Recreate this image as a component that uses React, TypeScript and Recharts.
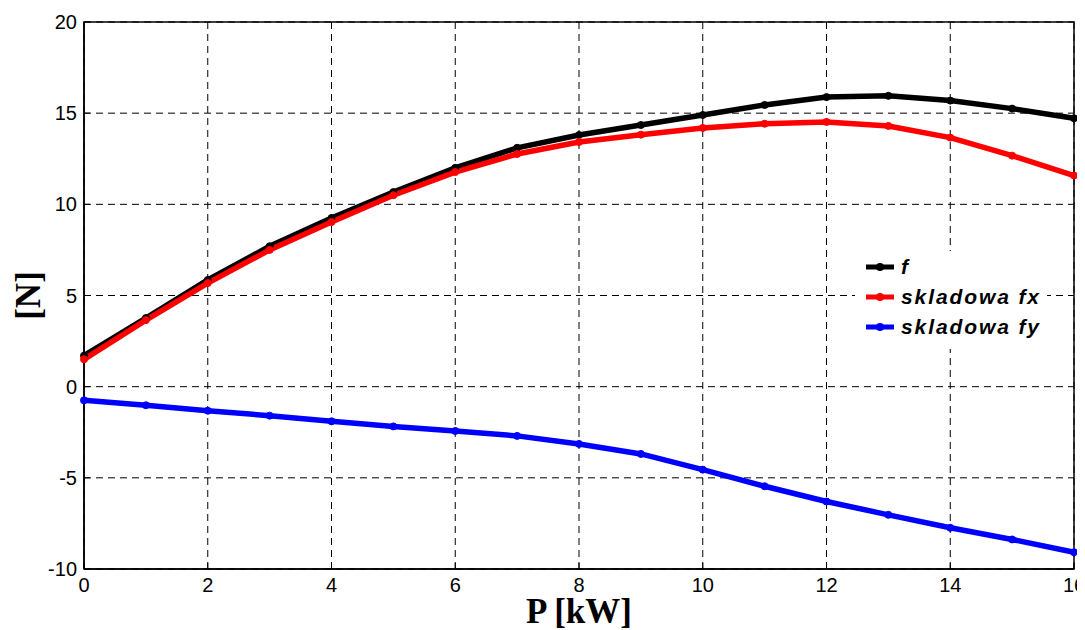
import React from "react";
import {
  LineChart,
  Line,
  XAxis,
  YAxis,
  CartesianGrid,
  ReferenceArea,
} from "recharts";

// moc P [kW]
const powerKw = [0, 1, 2, 3, 4, 5, 6, 7, 8, 9, 10, 11, 12, 13, 14, 15, 16];

// siła wypadkowa f i jej składowe [N]
const forceF = [
  1.7, 3.76, 5.85, 7.7, 9.25, 10.67, 12.0, 13.1, 13.8, 14.35, 14.9, 15.45,
  15.88, 15.95, 15.69, 15.25, 14.72,
];
const forceFx = [
  1.5, 3.65, 5.68, 7.5, 9.03, 10.5, 11.77, 12.76, 13.42, 13.82, 14.19, 14.42,
  14.52, 14.3, 13.66, 12.67, 11.58,
];
const forceFy = [
  -0.75, -1.02, -1.32, -1.59, -1.9, -2.18, -2.43, -2.7, -3.14, -3.69, -4.55,
  -5.46, -6.3, -7.03, -7.74, -8.38, -9.08,
];

const xTicks = [0, 2, 4, 6, 8, 10, 12, 14, 16];
const yTicks = [-10, -5, 0, 5, 10, 15, 20];

const seriesInfo = [
  { key: "f", name: "f", color: "#000000" },
  { key: "fx", name: "skladowa fx", color: "#ff0000" },
  { key: "fy", name: "skladowa fy", color: "#0000ff" },
];

const data = powerKw.map((p, i) => ({
  p,
  f: forceF[i],
  fx: forceFx[i],
  fy: forceFy[i],
}));

const sansFont = "'Liberation Sans', Arial, sans-serif";
const serifFont = "'Liberation Serif', 'Times New Roman', serif";

const TICK_SIZE = 4;
const TICK_MARGIN = 3;
const INNER_TICK = 6;

// tick labels outside, short tick marks pointing into the plot
function YTick(props: any) {
  const { x, y, payload } = props;
  const axisX = x + TICK_SIZE + TICK_MARGIN;
  return (
    <g>
      <line x1={axisX} y1={y} x2={axisX + INNER_TICK} y2={y} stroke="#000" />
      <text
        x={x}
        y={y}
        dy={7}
        textAnchor="end"
        fontFamily={sansFont}
        fontSize={20}
        fill="#000"
      >
        {payload.value}
      </text>
    </g>
  );
}

function XTick(props: any) {
  const { x, y, payload } = props;
  const axisY = y - TICK_SIZE - TICK_MARGIN;
  return (
    <g>
      <line x1={x} y1={axisY} x2={x} y2={axisY - INNER_TICK} stroke="#000" />
      <text
        x={x}
        y={y}
        dy={16}
        textAnchor="middle"
        fontFamily={sansFont}
        fontSize={20}
        fill="#000"
      >
        {payload.value}
      </text>
    </g>
  );
}

function XTitle(props: any) {
  const { x, y, width, height } = props.viewBox;
  return (
    <text
      x={x + width / 2}
      y={y + height - 7}
      textAnchor="middle"
      fontFamily={serifFont}
      fontWeight="bold"
      fontSize={35}
      fill="#000"
    >
      P [kW]
    </text>
  );
}

function YTitle(props: any) {
  const { x, y, height } = props.viewBox;
  const cx = x + 32;
  const cy = y + height / 2;
  return (
    <text
      x={cx}
      y={cy}
      transform={`rotate(-90, ${cx}, ${cy})`}
      textAnchor="middle"
      fontFamily={serifFont}
      fontWeight="bold"
      fontSize={35}
      fill="#000"
    >
      [N]
    </text>
  );
}

function LegendBox() {
  return (
    <div
      style={{
        position: "absolute",
        left: 847,
        top: 243,
        width: 192,
        height: 98,
        background: "#fff",
      }}
    >
      {seriesInfo.map((s, i) => (
        <div
          key={s.key}
          style={{
            position: "absolute",
            left: 11,
            top: 4 + i * 30,
            height: 24,
            display: "flex",
            alignItems: "center",
          }}
        >
          <svg width={28} height={12} style={{ marginRight: 7 }}>
            <line x1={0} y1={6} x2={28} y2={6} stroke={s.color} strokeWidth={5} />
            <circle cx={14} cy={6} r={4} fill={s.color} />
          </svg>
          <span
            style={{
              fontFamily: sansFont,
              fontWeight: "bold",
              fontStyle: "italic",
              fontSize: 21,
              letterSpacing: 1.9,
              color: "#000",
              lineHeight: "24px",
            }}
          >
            {s.name}
          </span>
        </div>
      ))}
    </div>
  );
}

export default function App() {
  return (
    <div style={{ position: "relative", width: 1077, height: 622 }}>
      <style>{`body { overflow: hidden; } .recharts-surface { overflow: visible; }`}</style>
      <LineChart
        width={1077}
        height={622}
        data={data}
        margin={{ top: 14, right: 11, left: 0, bottom: 0 }}
      >
        <CartesianGrid stroke="#000" strokeDasharray="7 5" strokeWidth={1} />
        <XAxis
          dataKey="p"
          type="number"
          domain={[0, 16]}
          ticks={xTicks}
          height={61}
          tick={<XTick />}
          tickLine={false}
          tickSize={TICK_SIZE}
          tickMargin={TICK_MARGIN}
          axisLine={{ stroke: "#000", strokeWidth: 1.5 }}
          label={<XTitle />}
        />
        <YAxis
          type="number"
          domain={[-10, 20]}
          ticks={yTicks}
          width={76}
          tick={<YTick />}
          tickLine={false}
          tickSize={TICK_SIZE}
          tickMargin={TICK_MARGIN}
          axisLine={{ stroke: "#000", strokeWidth: 1.5 }}
          label={<YTitle />}
        />
        <ReferenceArea
          x1={0}
          x2={16}
          y1={-10}
          y2={20}
          fill="none"
          fillOpacity={0}
          stroke="#000"
          strokeWidth={1.5}
        />
        {seriesInfo.map((s) => (
          <Line
            key={s.key}
            dataKey={s.key}
            name={s.name}
            type="linear"
            stroke={s.color}
            strokeWidth={5.5}
            dot={{ r: 3.5, fill: s.color, stroke: s.color, strokeWidth: 1 }}
            activeDot={false}
            isAnimationActive={false}
          />
        ))}
      </LineChart>
      <LegendBox />
    </div>
  );
}
